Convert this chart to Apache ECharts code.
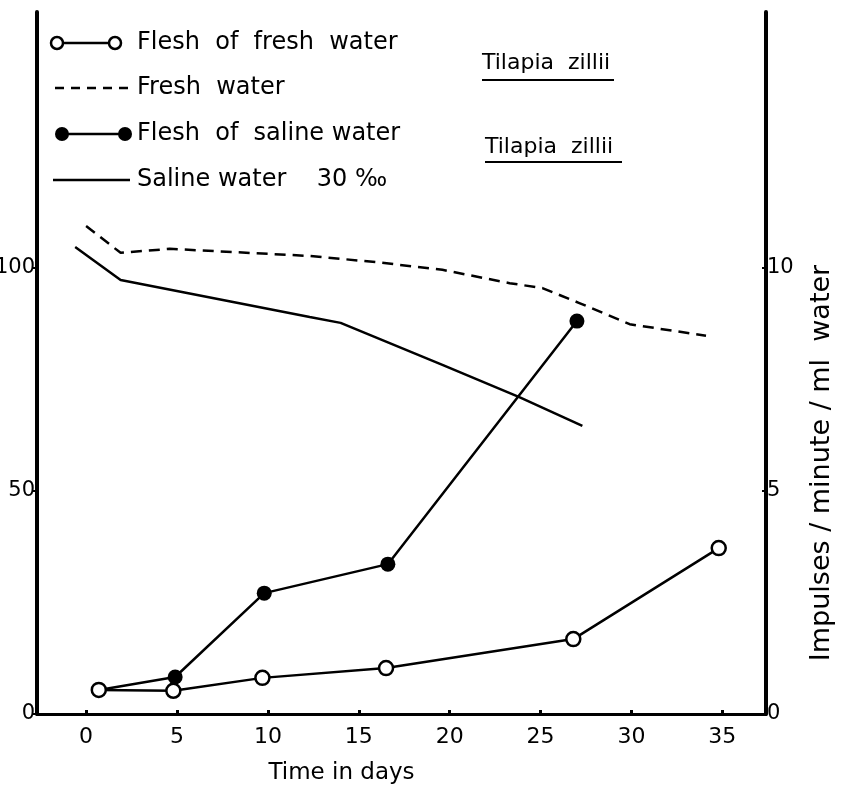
<!DOCTYPE html>
<html><head><meta charset="utf-8">
<script src="https://cdn.jsdelivr.net/npm/echarts@6/dist/echarts.min.js"></script>
<style>html,body{margin:0;padding:0;background:#fff}#c{width:844px;height:790px}</style>
</head><body><div id="c"></div>
<script>
const xTicks = [0, 5, 10, 15, 20, 25, 30, 35];
const leftTicks = [0, 50, 100];
const rightTicks = [0, 5, 10];

const fleshFreshDays = [0.7, 4.8, 9.7, 16.5, 26.8, 34.8];
const fleshFreshVals = [0.54, 0.52, 0.81, 1.03, 1.68, 3.72];

const fleshSalineDays = [0.7, 4.9, 9.8, 16.6, 27.0];
const fleshSalineVals = [0.54, 0.83, 2.71, 3.36, 8.81];

const freshWaterDays = [0, 1.9, 4.6, 12.3, 16.0, 19.6, 23.3, 25.1, 27.1, 29.9, 34.1];
const freshWaterVals = [10.94, 10.34, 10.43, 10.27, 10.13, 9.96, 9.66, 9.55, 9.22, 8.74, 8.48];

const salineWaterDays = [-0.6, 1.9, 12.3, 14.0, 19.6, 23.8, 27.3];
const salineWaterVals = [10.47, 9.73, 8.90, 8.77, 7.83, 7.11, 6.46];

const legendNames = ['Flesh  of  fresh  water', 'Fresh  water', 'Flesh  of  saline water', 'Saline water    30 \u2030'];
const speciesLabel = 'Tilapia  zillii';

const pairs = (xs, ys) => xs.map((x, i) => [x, ys[i]]);
const FONT = 'DejaVu Sans';

const chart = echarts.init(document.getElementById('c'), null, {renderer: 'canvas'});

const salineFleshData = pairs(fleshSalineDays, fleshSalineVals).map((p, i) =>
  i === 0 ? {value: p, symbol: 'none'} : p);

const graphics = [];
const rows = [43, 88, 134, 180];
graphics.push({type: 'line', shape: {x1: 63, y1: rows[0], x2: 109, y2: rows[0]}, style: {stroke: '#000', lineWidth: 2.5}});
graphics.push({type: 'circle', shape: {cx: 57, cy: rows[0], r: 6}, style: {fill: '#fff', stroke: '#000', lineWidth: 2.5}});
graphics.push({type: 'circle', shape: {cx: 115, cy: rows[0], r: 6}, style: {fill: '#fff', stroke: '#000', lineWidth: 2.5}});
graphics.push({type: 'line', shape: {x1: 55, y1: rows[1], x2: 128, y2: rows[1]}, style: {stroke: '#000', lineWidth: 2.5, lineDash: [9, 7]}});
graphics.push({type: 'line', shape: {x1: 62, y1: rows[2], x2: 125, y2: rows[2]}, style: {stroke: '#000', lineWidth: 2.5}});
graphics.push({type: 'circle', shape: {cx: 62, cy: rows[2], r: 7}, style: {fill: '#000'}});
graphics.push({type: 'circle', shape: {cx: 125, cy: rows[2], r: 7}, style: {fill: '#000'}});
graphics.push({type: 'line', shape: {x1: 53, y1: rows[3], x2: 130, y2: rows[3]}, style: {stroke: '#000', lineWidth: 2.5}});
legendNames.forEach((t, i) => {
  graphics.push({type: 'text', x: 137, y: rows[i], style: {text: t, fill: '#000', font: '24px "' + FONT + '"', verticalAlign: 'middle'}});
});
[[482, 63, 80, 132], [485, 147, 162, 137]].forEach(([x, y, uy, w]) => {
  graphics.push({type: 'text', x: x, y: y, style: {text: speciesLabel, fill: '#000', font: '22px "' + FONT + '"', verticalAlign: 'middle'}});
  graphics.push({type: 'line', shape: {x1: x, y1: uy, x2: x + w, y2: uy}, style: {stroke: '#000', lineWidth: 2}});
});

chart.setOption({
  backgroundColor: '#fff',
  animation: false,
  textStyle: {fontFamily: FONT, color: '#000'},
  grid: {left: 37, right: 78, top: 12, bottom: 76, containLabel: false, outerBoundsMode: 'none'},
  xAxis: {
    type: 'value', min: -2.7, max: 37.4,
    name: 'Time in days', nameLocation: 'middle', nameGap: 48,
    nameTextStyle: {fontSize: 23, color: '#000', padding: [0, 120, 0, 0]},
    axisLine: {show: true, onZero: false, lineStyle: {color: '#000', width: 3}},
    axisTick: {show: true, inside: true, length: 4, lineStyle: {color: '#000', width: 3}, customValues: xTicks},
    axisLabel: {color: '#000', fontSize: 22, margin: 12, customValues: xTicks},
    splitLine: {show: false}
  },
  yAxis: [{
    type: 'value', min: 0, max: 157.4, position: 'left',
    axisLine: {show: true, onZero: false, lineStyle: {color: '#000', width: 4}},
    axisTick: {show: true, length: 4, lineStyle: {color: '#000', width: 2}, customValues: leftTicks},
    axisLabel: {color: '#000', fontSize: 21, margin: 2, customValues: leftTicks},
    splitLine: {show: false}
  }, {
    type: 'value', min: 0, max: 15.74, position: 'right',
    name: 'Impulses / minute / ml  water', nameLocation: 'middle', nameRotate: 90, nameGap: 42,
    nameTextStyle: {fontSize: 27, color: '#000', padding: [0, 200, 0, 0]},
    axisLine: {show: true, onZero: false, lineStyle: {color: '#000', width: 4}},
    axisTick: {show: true, inside: true, length: 4, lineStyle: {color: '#000', width: 2}, customValues: rightTicks},
    axisLabel: {color: '#000', fontSize: 21, margin: 1, customValues: rightTicks},
    splitLine: {show: false}
  }],
  series: [{
    name: legendNames[1], type: 'line', yAxisIndex: 1, symbol: 'none',
    lineStyle: {color: '#000', width: 2.5, type: [11, 7]},
    data: pairs(freshWaterDays, freshWaterVals)
  }, {
    name: legendNames[3], type: 'line', yAxisIndex: 1, symbol: 'none',
    lineStyle: {color: '#000', width: 2.5},
    data: pairs(salineWaterDays, salineWaterVals)
  }, {
    name: legendNames[2], type: 'line', yAxisIndex: 1, symbol: 'circle', symbolSize: 15,
    itemStyle: {color: '#000'}, lineStyle: {color: '#000', width: 2.5},
    data: salineFleshData, z: 3
  }, {
    name: legendNames[0], type: 'line', yAxisIndex: 1, symbol: 'circle', symbolSize: 14,
    itemStyle: {color: '#fff', borderColor: '#000', borderWidth: 2.5}, lineStyle: {color: '#000', width: 2.5},
    data: pairs(fleshFreshDays, fleshFreshVals), z: 4
  }],
  graphic: graphics
});
</script></body></html>
